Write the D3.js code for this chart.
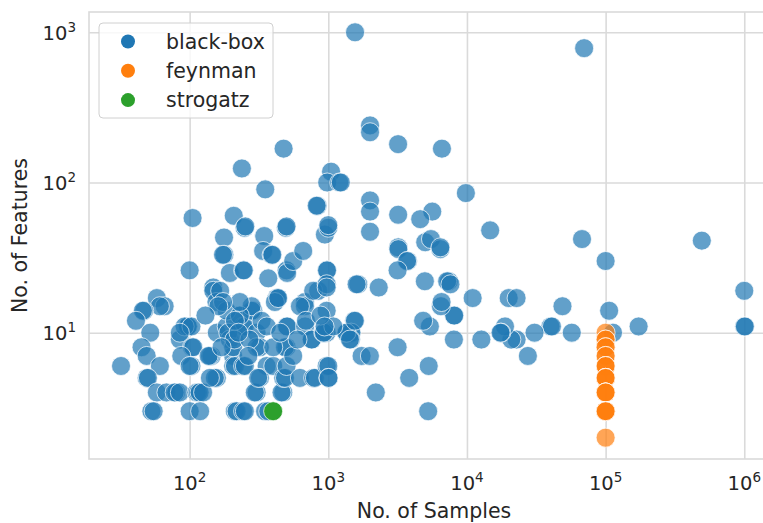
<!DOCTYPE html>
<html>
<head>
<meta charset="utf-8">
<script src="https://cdn.jsdelivr.net/npm/d3@7"></script>
<style>
  body { margin: 0; background: #fff; }
  text { font-family: "DejaVu Sans", sans-serif; fill: #262626; }
</style>
</head>
<body>
<div id="chart"></div>
<script>
"use strict";

// [samples, features]
const blackBox = [
  [1559, 1000], [70000, 784], [2000, 240], [2000, 216], [3186, 180], [6598, 168], [476, 168],
  [238, 124], [1047, 118], [982, 100], [1200, 100], [1230, 100], [351, 90], [105, 58], [208, 60],
  [249, 50], [252, 51], [177, 43], [178, 33], [174, 33], [345, 44], [494, 50], [500, 51], [837, 70],
  [824, 70], [945, 45], [1000, 50], [1000, 52], [2000, 76], [2000, 64], [2000, 47],
  [9822, 85], [3190, 61], [5620, 64], [4601, 57], [14700, 48], [67557, 42], [494021, 41], [100000, 30],
  [1000000, 19], [1000000, 11], [1010000, 11], [106000, 14], [173000, 11], [113000, 10], [48842, 15],
  [40000, 11], [41000, 11], [57000, 10], [30700, 10], [27500, 7], [22800, 9], [20900, 9], [18800, 11],
  [17700, 10], [17460, 10], [20000, 17], [22800, 17], [12700, 9], [10992, 17], [8050, 13], [8100, 13],
  [8050, 9], [7400, 22], [7200, 22], [7600, 21], [4970, 22], [5400, 11], [4830, 12], [6490, 15],
  [5300, 6], [5250, 3], [3830, 5], [3160, 8], [2201, 4], [2310, 20], [3196, 37], [3200, 36],
  [3750, 30], [3700, 30], [3160, 26], [5000, 40], [5500, 42], [6435, 36], [6435, 37], [1643, 21],
  [1600, 21], [6560, 16], [1537, 12], [1455, 10], [1470, 10], [1455, 9], [1738, 7], [1995, 7],
  [1340, 10], [1355, 10],
  [100, 26], [148, 20], [148, 19], [156, 16], [58, 17], [66, 15], [61, 15], [47, 14], [46, 14],
  [41, 12], [52, 10], [45, 8], [49, 7], [61, 6], [32, 6], [49, 5], [50, 5], [58, 4], [68, 4],
  [80, 4], [78, 4], [85, 4], [112, 4], [115, 4], [118, 4], [125, 4], [53, 3], [55, 3], [100, 3],
  [119, 3], [212, 3], [218, 3], [243, 3], [250, 3], [304, 4], [295, 4], [350, 3], [369, 3],
  [473, 4], [460, 4], [85, 9], [98, 11], [97, 11], [92, 11], [103, 11], [85, 10], [104, 8],
  [106, 8], [87, 7], [103, 6], [100, 6], [144, 7], [140, 7], [157, 5], [152, 5], [140, 5],
  [157, 10], [185, 11], [195, 9], [206, 7], [206, 6], [212, 6], [243, 6], [250, 6], [231, 13],
  [243, 11], [250, 11], [288, 14], [280, 14], [280, 15], [304, 10], [321, 8], [304, 8], [359, 6],
  [321, 5], [312, 5], [401, 6], [424, 17], [430, 17], [500, 11], [505, 11], [500, 8], [487, 8],
  [401, 8], [473, 5], [487, 5], [500, 6], [558, 7], [624, 5], [678, 16], [678, 15], [680, 11],
  [758, 9], [760, 9], [778, 5], [800, 5], [845, 19], [778, 19], [973, 26], [980, 26], [973, 21],
  [973, 20], [973, 14], [973, 10], [920, 10], [930, 10], [973, 6], [1000, 6], [1000, 5], [1005, 5],
  [1087, 11], [1432, 9], [1556, 12], [185, 14], [230, 13], [412, 16], [190, 10], [206, 8],
  [210, 9], [166, 19], [230, 16], [174, 16], [624, 15], [435, 17], [369, 23], [195, 25],
  [243, 26], [246, 26], [500, 26], [505, 25], [558, 30], [659, 35], [339, 35], [390, 33],
  [395, 33], [161, 15], [137, 7], [212, 12], [270, 9], [330, 12], [360, 11], [450, 10],
  [600, 9], [690, 12], [880, 13], [940, 11], [130, 13], [170, 8], [225, 10], [265, 7]
];

const feynman = [
  [100000, 10], [100000, 9], [100000, 9], [100000, 8], [100000, 8], [100000, 7], [100000, 7],
  [100000, 6], [100000, 6], [100000, 6], [100000, 5], [100000, 5], [100000, 5], [100000, 5],
  [100000, 4], [100000, 4], [100000, 4], [100000, 4], [100000, 3], [100000, 3], [100000, 3],
  [100000, 3], [100000, 3], [100000, 2]
];

const strogatz = [[400, 3]];

const categories = ["black-box", "feynman", "strogatz"];
const colors = ["#1f77b4", "#ff7f0e", "#2ca02c"];
const xTicks = [1e2, 1e3, 1e4, 1e5, 1e6];
const yTicks = [1e1, 1e2, 1e3];

const W = 763, H = 523;
// the axes run past the right edge of the picture
const mLeft = 89, mRight = 779, mTop = 12, mBottom = 459;

const svg = d3.select("#chart").append("svg")
  .attr("width", W)
  .attr("height", H);

const x = d3.scaleLog().domain([18.8, 1.78e6]).range([mLeft, mRight]);
const y = d3.scaleLog().domain([1.442, 1365]).range([mBottom, mTop]);

const gridColor = "#dadada";

// Grid
const gx = svg.append("g")
  .attr("transform", "translate(0," + mBottom + ")")
  .call(d3.axisBottom(x).tickValues(xTicks).tickSize(-(mBottom - mTop)).tickFormat(""));
gx.select(".domain").remove();
gx.selectAll("line").attr("stroke", gridColor).attr("stroke-width", 1.6);

const gy = svg.append("g")
  .attr("transform", "translate(" + mLeft + ",0)")
  .call(d3.axisLeft(y).tickValues(yTicks).tickSize(-(mRight - mLeft)).tickFormat(""));
gy.select(".domain").remove();
gy.selectAll("line").attr("stroke", gridColor).attr("stroke-width", 1.6);

// Frame
svg.append("rect")
  .attr("x", mLeft).attr("y", mTop)
  .attr("width", mRight - mLeft).attr("height", mBottom - mTop)
  .attr("fill", "none")
  .attr("stroke", gridColor)
  .attr("stroke-width", 1.6);

// Tick labels with superscripts
function powLabel(sel, v) {
  const t = sel.append("text").attr("font-size", 19.5);
  t.append("tspan").text("10");
  t.append("tspan")
    .attr("font-size", 13.5)
    .attr("dy", -8)
    .text(Math.round(Math.log10(v)));
  return t;
}

xTicks.forEach(v => {
  powLabel(svg, v)
    .attr("x", x(v))
    .attr("y", 490)
    .attr("text-anchor", "middle");
});

yTicks.forEach(v => {
  powLabel(svg, v)
    .attr("x", 76)
    .attr("y", y(v) + 7.5)
    .attr("text-anchor", "end");
});

// Axis titles
svg.append("text")
  .attr("x", (mLeft + mRight) / 2)
  .attr("y", 518)
  .attr("text-anchor", "middle")
  .attr("font-size", 20.5)
  .text("No. of Samples");

svg.append("text")
  .attr("transform", "translate(27," + ((mTop + mBottom) / 2) + ") rotate(-90)")
  .attr("text-anchor", "middle")
  .attr("font-size", 20.5)
  .text("No. of Features");

// Points
const series = [blackBox, feynman, strogatz];
series.forEach((data, i) => {
  svg.append("g")
    .selectAll("circle")
    .data(data)
    .join("circle")
    .attr("cx", d => x(d[0]))
    .attr("cy", d => y(d[1]))
    .attr("r", 9.5)
    .attr("fill", colors[i])
    .attr("fill-opacity", i === 2 ? 1 : 0.7)
    .attr("stroke", "#fff")
    .attr("stroke-opacity", 0.7)
    .attr("stroke-width", 1);
});

// Legend
const lg = svg.append("g");
lg.append("rect")
  .attr("x", 99).attr("y", 23)
  .attr("width", 174).attr("height", 95)
  .attr("rx", 4)
  .attr("fill", "#fff").attr("fill-opacity", 0.8)
  .attr("stroke", "#d0d0d0").attr("stroke-width", 1);

categories.forEach((c, i) => {
  const cy = 41.5 + i * 29.3;
  lg.append("circle")
    .attr("cx", 128).attr("cy", cy).attr("r", 7)
    .attr("fill", colors[i]);
  lg.append("text")
    .attr("x", 166).attr("y", cy + 7)
    .attr("font-size", 20.5)
    .text(c);
});
</script>
</body>
</html>
